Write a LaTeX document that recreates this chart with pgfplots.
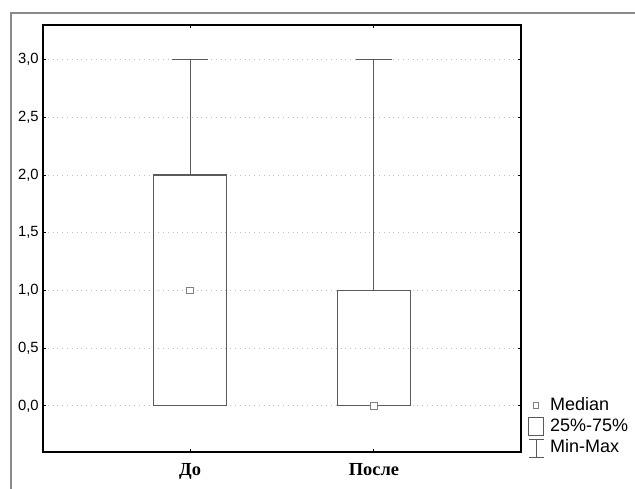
\documentclass[border=0pt]{standalone}
\usepackage{pgfplots}
\pgfplotsset{compat=1.18}
\usepgfplotslibrary{statistics}
\usepackage{fontspec}
\setmainfont{Liberation Sans}
\newfontfamily\serifcat{Liberation Serif}
\definecolor{boxgray}{HTML}{5A5A5A}
\definecolor{framegray}{HTML}{8A8A8A}
\definecolor{gridgray}{HTML}{BDBDBD}
\begin{document}
\begin{tikzpicture}
\useasboundingbox (0,0) rectangle (317.5pt,244pt);
\fill[white] (0,0) rectangle (317.5pt,244pt);
\draw[framegray, line width=0.65pt] (5.5pt,-2pt) -- (5.5pt,237.5pt) -- (320pt,237.5pt);
\begin{axis}[
  at={(21.5pt,18pt)}, anchor=south west,
  width=239pt, height=213.5pt, scale only axis,
  xmin=0.2, xmax=2.8, ymin=-0.4, ymax=3.3,
  xtick={1,2}, xticklabels={До, После},
  ytick={0,0.5,1,1.5,2,2.5,3},
  tick align=inside, tick pos=both,
  major tick length=1.5pt,
  tick style={black, line width=0.5pt},
  axis line style={black, line width=0.6pt},
  ymajorgrids,
  grid style={gridgray, dotted, line width=0.4pt},
  /pgf/number format/assume math mode=true,
  /pgf/number format/use comma,
  /pgf/number format/fixed,
  /pgf/number format/fixed zerofill,
  /pgf/number format/precision=1,
  yticklabel style={font=\fontsize{7.4}{8}\selectfont, inner sep=1pt, xshift=-1pt},
  xticklabel style={font=\serifcat\bfseries\fontsize{9.2}{10}\selectfont, yshift=-2pt},
  legend style={at={(1,0)}, anchor=south west, xshift=3.5pt, yshift=-3.5pt,
    draw=none, fill=none, inner sep=0pt, row sep=0pt,
    font=\fontsize{9}{10}\selectfont,
    nodes={inner sep=0.9pt, text height=6.8pt, text depth=2pt, anchor=west},
    /tikz/every odd column/.append style={column sep=2pt}},
  legend cell align=left,
  boxplot/draw direction=y,
  boxplot/draw/median/.code={},
]
\addplot[forget plot, boxgray, line width=0.55pt,
  boxplot prepared={draw position=1, lower whisker=0, lower quartile=0,
    median=1, upper quartile=2, upper whisker=3,
    box extend=0.4, whisker extend=0.2},
  boxplot/every whisker/.style={line width=0.55pt}] coordinates {};
\addplot[forget plot, boxgray, line width=0.55pt,
  boxplot prepared={draw position=2, lower whisker=0, lower quartile=0,
    median=0, upper quartile=1, upper whisker=3,
    box extend=0.4, whisker extend=0.2}] coordinates {};
\addplot[forget plot, only marks, mark=square*, mark size=1.7pt,
  mark options={fill=white, draw=gray, line width=0.5pt}]
  coordinates {(1,1) (2,0)};
\addlegendimage{legend image code/.code={
  \draw[fill=white, draw=gray, line width=0.45pt] (2.2pt,-1.4pt) rectangle (5pt,1.4pt);}}
\addlegendentry{Median}
\addlegendimage{legend image code/.code={
  \draw[boxgray, line width=0.5pt] (0pt,-4.5pt) rectangle (7.5pt,4.5pt);}}
\addlegendentry{25\%-75\%}
\addlegendimage{legend image code/.code={
  \draw[boxgray, line width=0.5pt] (0pt,4.5pt) -- (7.5pt,4.5pt)
     (3.75pt,4.5pt) -- (3.75pt,-4.5pt) (0pt,-4.5pt) -- (7.5pt,-4.5pt);}}
\addlegendentry{Min-Max}
\end{axis}
\end{tikzpicture}
\end{document}
